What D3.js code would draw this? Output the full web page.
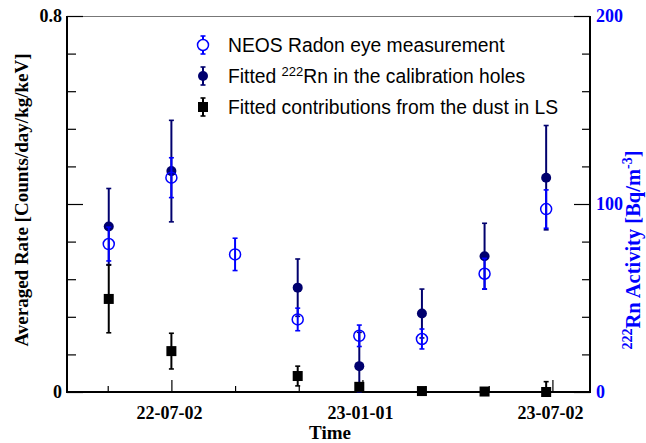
<!DOCTYPE html>
<html><head><meta charset="utf-8">
<script src="https://cdn.jsdelivr.net/npm/d3@7"></script>
<style>body{margin:0;background:#fff}svg{display:block}</style>
</head><body>
<svg id="c" width="646" height="443"></svg>
<script>
// ---- data ----
const dates = ["2022-05-03","2022-07-02","2022-09-01","2022-10-31","2022-12-29","2023-02-27","2023-04-28","2023-06-26"];
// NEOS Radon eye measurement (Bq/m^3, right axis)
const radonEye    = [78.7, 114.0, 73.2, 38.6, 29.9, 28.2, 62.9, 97.3];
const radonEyeErr = [9.0, 10.6, 8.6, 6.0, 5.7, 5.3, 8.2, 10.2];
// Fitted 222Rn in the calibration holes (left axis), null = no point
const rnHoles    = [0.352, 0.470, null, 0.222, 0.055, 0.167, 0.289, 0.456];
const rnHolesErr = [0.081, 0.108, null, 0.061, 0.072, 0.052, 0.070, 0.111];
// Fitted contributions from the dust in LS (left axis)
const dust    = [0.198, 0.087, null, 0.034, 0.011, 0.002, 0.001, 0.000];
const dustErr = [0.072, 0.038, null, 0.021, 0.008, 0.003, 0.003, 0.022];
const xDomain = ["2022-03-24","2023-08-07"];
const xMajorTicks = ["2022-07-02","2023-01-01","2023-07-02"];
const xMinorTicks = ["2022-05-02","2022-09-01","2022-11-01","2023-03-02","2023-05-02"];
const leftDomain = [0, 0.8];
const leftLabels = [0, 0.8];
const leftMajor = [0, 0.4, 0.8];
const leftMinor = [0.08,0.16,0.24,0.32,0.48,0.56,0.64,0.72];
const rightDomain = [0, 200];
const rightLabels = [0, 100, 200];
const rightMinor = [20,40,60,80,120,140,160,180];
const legendItems = ["NEOS Radon eye measurement","Fitted |222|Rn in the calibration holes","Fitted contributions from the dust in LS"];

// ---- chart ----
const parse = d3.utcParse("%Y-%m-%d");
const fmt = d3.utcFormat("%y-%m-%d");
const L = 67, R = 590, T = 16, B = 392;
const svg = d3.select("#c");
const x = d3.scaleUtc().domain(xDomain.map(parse)).range([L, R]);
const yl = d3.scaleLinear().domain(leftDomain).range([B, T]);
const yr = d3.scaleLinear().domain(rightDomain).range([B, T]);
const NAVY = "#00006e", BLUE = "#0000ff";
const serif = "'Liberation Serif','Times New Roman',serif";
const sans = "'Liberation Sans',Arial,sans-serif";

// frame
svg.append("line").attr("x1", L).attr("x2", R).attr("y1", T + 0.5).attr("y2", T + 0.5).attr("stroke", "#777").attr("stroke-width", 1);
// axes using d3 axis generators
svg.append("g").attr("transform", `translate(0,${B})`)
  .call(d3.axisTop(x).tickValues(xMajorTicks.map(parse)).tickSize(12).tickFormat(""));
svg.append("g").attr("transform", `translate(0,${B})`)
  .call(d3.axisTop(x).tickValues(xMinorTicks.map(parse)).tickSize(6).tickFormat(""));
svg.append("g").attr("transform", `translate(${L},0)`)
  .call(d3.axisRight(yl).tickValues(leftMajor).tickSize(16).tickFormat(""));
svg.append("g").attr("transform", `translate(${L},0)`)
  .call(d3.axisRight(yl).tickValues(leftMinor).tickSize(9).tickFormat(""));
svg.append("g").attr("transform", `translate(${R},0)`)
  .call(d3.axisLeft(yr).tickValues(rightLabels).tickSize(16).tickFormat(""));
svg.append("g").attr("transform", `translate(${R},0)`)
  .call(d3.axisLeft(yr).tickValues(rightMinor).tickSize(8).tickFormat(""));
svg.selectAll(".domain").remove();
svg.selectAll(".tick line").attr("stroke", "#000").attr("stroke-width", 1.2);
// axis lines
svg.append("line").attr("x1", L).attr("x2", R).attr("y1", B).attr("y2", B).attr("stroke", "#000").attr("stroke-width", 2);
svg.append("line").attr("x1", L).attr("x2", L).attr("y1", T).attr("y2", B + 1).attr("stroke", "#000").attr("stroke-width", 2);
svg.append("line").attr("x1", R).attr("x2", R).attr("y1", T).attr("y2", B + 1).attr("stroke", "#000").attr("stroke-width", 2);

// tick labels
svg.selectAll(".xl").data(xMajorTicks).join("text")
  .attr("x", d => x(parse(d)) - 2).attr("y", 419).attr("text-anchor", "middle")
  .attr("font-family", serif).attr("font-weight", "bold").attr("font-size", 18).text(d => fmt(parse(d)));
svg.selectAll(".yll").data(leftLabels).join("text")
  .attr("x", 62).attr("y", d => yl(d) + 6).attr("text-anchor", "end")
  .attr("font-family", serif).attr("font-weight", "bold").attr("font-size", 18).text(d => d);
svg.selectAll(".yrl").data(rightLabels).join("text")
  .attr("x", 596).attr("y", d => yr(d) + 6).attr("text-anchor", "start").attr("fill", BLUE)
  .attr("font-family", serif).attr("font-weight", "bold").attr("font-size", 18).text(d => d);

// axis titles
svg.append("text").attr("x", 330).attr("y", 439).attr("text-anchor", "middle")
  .attr("font-family", serif).attr("font-weight", "bold").attr("font-size", 19).text("Time");
svg.append("text").attr("transform", "translate(28,200) rotate(-90)").attr("text-anchor", "middle")
  .attr("font-family", serif).attr("font-weight", "bold").attr("font-size", 19).text("Averaged Rate [Counts/day/kg/keV]");
const rt = svg.append("text").attr("transform", "translate(640,250) rotate(-90)").attr("text-anchor", "middle")
  .attr("font-family", serif).attr("font-weight", "bold").attr("font-size", 20.5).attr("fill", BLUE);
rt.append("tspan").attr("font-size", 14).attr("dy", -8).text("222");
rt.append("tspan").attr("dy", 8).text("Rn Activity [Bq/m");
rt.append("tspan").attr("font-size", 14).attr("dy", -8).text("-3");
rt.append("tspan").attr("dy", 8).text("]");

// error bar helper
function errbar(g, cx, y0, y1, color, w) {
  g.append("line").attr("x1", cx).attr("x2", cx).attr("y1", y0).attr("y2", y1).attr("stroke", color).attr("stroke-width", w);
  [y0, y1].forEach(yy => g.append("line").attr("x1", cx - 2.5).attr("x2", cx + 2.5).attr("y1", yy).attr("y2", yy).attr("stroke", color).attr("stroke-width", 1.6));
}
const plot = svg.append("g");
const clip = v => Math.max(T, Math.min(B, v));

// navy: Fitted Rn in holes
dates.forEach((d, i) => {
  if (rnHoles[i] == null) return;
  const cx = x(parse(d));
  errbar(plot, cx, clip(yl(rnHoles[i] + rnHolesErr[i])), clip(yl(rnHoles[i] - rnHolesErr[i])), NAVY, 2);
});
plot.selectAll(".nv").data(dates.map((d, i) => [d, rnHoles[i]]).filter(p => p[1] != null)).join("circle")
  .attr("cx", p => x(parse(p[0]))).attr("cy", p => yl(p[1])).attr("r", 5).attr("fill", NAVY);
// black: dust
dates.forEach((d, i) => {
  if (dust[i] == null) return;
  const cx = x(parse(d));
  errbar(plot, cx, clip(yl(dust[i] + dustErr[i])), clip(yl(dust[i] - dustErr[i])), "#000", 2);
});
plot.selectAll(".sq").data(dates.map((d, i) => [d, dust[i]]).filter(p => p[1] != null)).join("rect")
  .attr("x", p => x(parse(p[0])) - 5).attr("y", p => yl(p[1]) - 5).attr("width", 10).attr("height", 10).attr("fill", "#000");
// blue: radon eye
dates.forEach((d, i) => {
  const cx = x(parse(d));
  errbar(plot, cx, yr(radonEye[i] + radonEyeErr[i]), yr(radonEye[i] - radonEyeErr[i]), BLUE, 2);
});
plot.selectAll(".bl").data(dates.map((d, i) => [d, radonEye[i]])).join("circle")
  .attr("cx", p => x(parse(p[0]))).attr("cy", p => yr(p[1])).attr("r", 5.5)
  .attr("fill", "none").attr("stroke", BLUE).attr("stroke-width", 1.5);

// legend
const lg = svg.append("g");
const ly = [45, 76, 107], lx = 203;
legendItems.forEach((t, i) => {
  const color = [BLUE, NAVY, "#000"][i];
  const yy = ly[i];
  errbar(lg, lx, yy - 9, yy + 9, color, 2);
  if (i === 0) lg.append("circle").attr("cx", lx).attr("cy", yy).attr("r", 5.5).attr("fill", "#fff").attr("stroke", BLUE).attr("stroke-width", 1.5);
  if (i === 1) lg.append("circle").attr("cx", lx).attr("cy", yy).attr("r", 5).attr("fill", NAVY);
  if (i === 2) lg.append("rect").attr("x", lx - 5).attr("y", yy - 5).attr("width", 10).attr("height", 10).attr("fill", "#000");
  const tx = lg.append("text").attr("x", 228).attr("y", yy + 7).attr("font-family", sans).attr("font-size", 19.3).attr("fill", "#000");
  const parts = t.split("|");
  parts.forEach((p, k) => {
    if (k % 2 === 1) tx.append("tspan").attr("font-size", 13).attr("dy", -7.5).text(p);
    else tx.append("tspan").attr("dy", k > 0 ? 7.5 : 0).text(p);
  });
});
</script>
</body></html>
